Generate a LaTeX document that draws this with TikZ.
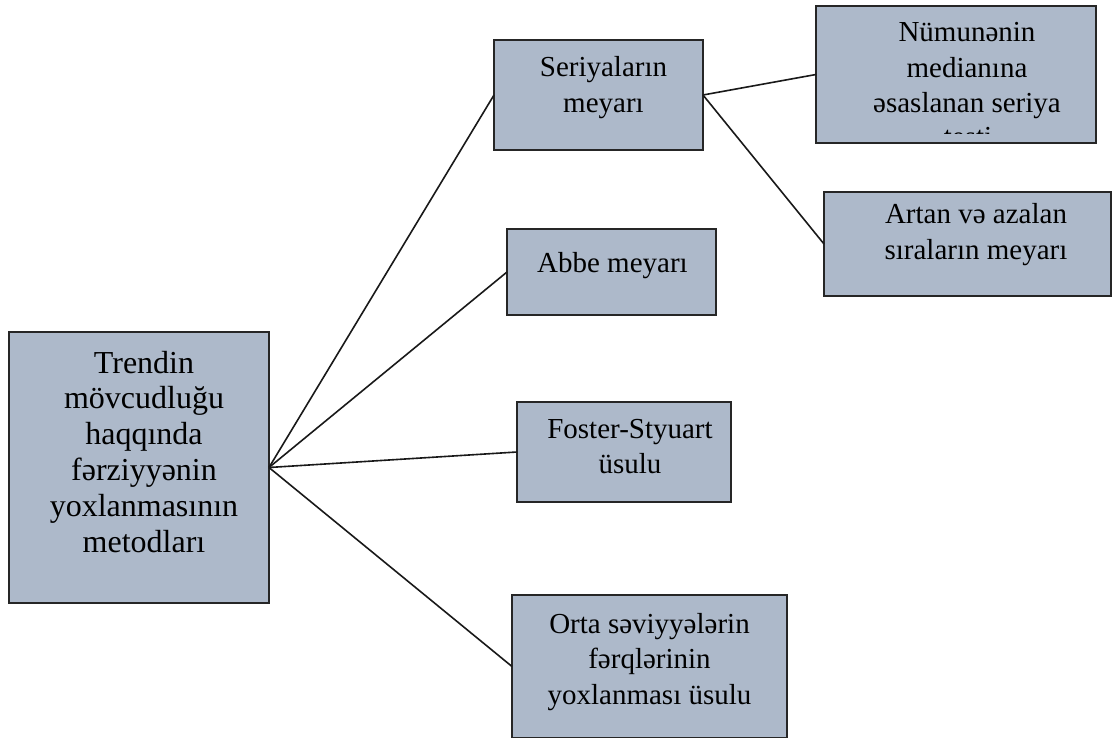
\documentclass[tikz,border=0pt]{standalone}
\usepackage{fontspec}
\setmainfont{Liberation Serif}
\definecolor{boxfill}{HTML}{ADB9CA}
\definecolor{boxline}{HTML}{262626}
% width, height, text shift, first baseline, text
\newcommand{\cell}[5]{\parbox[c][#2pt][t]{#1pt}{\centering\leftskip=#3pt plus 1fil\rule{0pt}{#4pt}#5}}

\begin{document}
\begin{tikzpicture}[x=1pt,y=-1pt,
	box/.style={draw=boxline,fill=boxfill,line width=1.6pt,inner sep=0pt,outer sep=0pt,
		font=\fontsize{29pt}{35.5pt}\selectfont},
	link/.style={draw=black!90,line width=1.6pt}]
	\useasboundingbox (0,0) rectangle (1112,738);
	
	\node[box,font=\fontsize{32pt}{35.8pt}\selectfont] (trend) at (139,467.5) {\cell{260}{271}{10}{41}{Trendin\\mövcudluğu\\haqqında\\fərziyyənin\\yoxlanmasının\\metodları}};
	\node[box] (seri) at (598.5,95) {\cell{209}{110}{10}{37}{Seriyaların\\meyarı}};
	\node[box] (abbe) at (611.5,272) {\cell{209}{86}{2}{44}{Abbe meyarı}};
	\node[box] (foster) at (624,452) {\cell{214}{100}{12}{36}{Foster-Styuart\\üsulu}};
	\node[box] (orta) at (649.5,666.5) {\cell{275}{143}{0}{38}{Orta səviyyələrin\\fərqlərinin\\yoxlanması üsulu}};
	\node[box] (numune) at (956,74.5) {\cell{280}{137}{22}{36}{Nümunənin\\medianına\\əsaslanan seriya}};
	\node[box] (artan) at (967.5,244) {\cell{287}{104}{17}{32}{Artan və azalan\\sıraların meyarı}};
	
	% last line of the upper box is cut off inside its border
	\begin{scope}
		\clip (numune.north west) rectangle ([yshift=9pt]numune.south east);
		\node[font=\fontsize{29pt}{35.5pt}\selectfont,anchor=base,inner sep=0pt] (numtail) at (968,147) {testi};
	\end{scope}
	
	\foreach \b in {seri, abbe, foster, orta}
		\draw[link] (trend.east) -- (\b.west);
	\draw[link] (seri.east) -- (numune.west);
	\draw[link] (seri.east) -- (artan.west);
\end{tikzpicture}
\end{document}
